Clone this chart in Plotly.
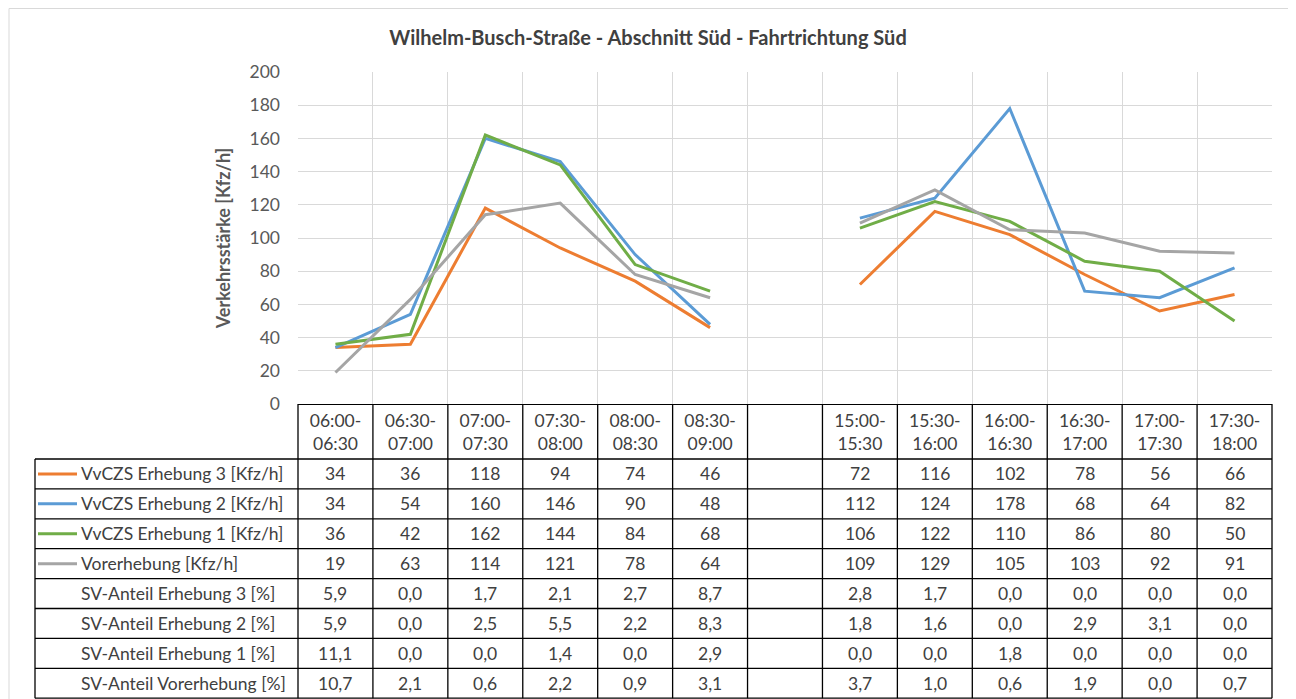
import plotly.graph_objects as go

# ---------------- data ----------------
categories = ["06:00-<br>06:30", "06:30-<br>07:00", "07:00-<br>07:30", "07:30-<br>08:00",
              "08:00-<br>08:30", "08:30-<br>09:00", " ",
              "15:00-<br>15:30", "15:30-<br>16:00", "16:00-<br>16:30", "16:30-<br>17:00",
              "17:00-<br>17:30", "17:30-<br>18:00"]

erhebung3 = [34, 36, 118, 94, 74, 46, None, 72, 116, 102, 78, 56, 66]
erhebung2 = [34, 54, 160, 146, 90, 48, None, 112, 124, 178, 68, 64, 82]
erhebung1 = [36, 42, 162, 144, 84, 68, None, 106, 122, 110, 86, 80, 50]
vorerhebung = [19, 63, 114, 121, 78, 64, None, 109, 129, 105, 103, 92, 91]

sv_erhebung3 = [5.9, 0.0, 1.7, 2.1, 2.7, 8.7, None, 2.8, 1.7, 0.0, 0.0, 0.0, 0.0]
sv_erhebung2 = [5.9, 0.0, 2.5, 5.5, 2.2, 8.3, None, 1.8, 1.6, 0.0, 2.9, 3.1, 0.0]
sv_erhebung1 = [11.1, 0.0, 0.0, 1.4, 0.0, 2.9, None, 0.0, 0.0, 1.8, 0.0, 0.0, 0.0]
sv_vorerhebung = [10.7, 2.1, 0.6, 2.2, 0.9, 3.1, None, 3.7, 1.0, 0.6, 1.9, 0.0, 0.7]

line_names = ["VvCZS Erhebung 3 [Kfz/h]", "VvCZS Erhebung 2 [Kfz/h]",
              "VvCZS Erhebung 1 [Kfz/h]", "Vorerhebung [Kfz/h]"]
sv_names = ["SV-Anteil Erhebung 3 [%]", "SV-Anteil Erhebung 2 [%]",
            "SV-Anteil Erhebung 1 [%]", "SV-Anteil Vorerhebung [%]"]

title = "Wilhelm-Busch-Straße - Abschnitt Süd - Fahrtrichtung Süd"
y_title = "Verkehrsstärke [Kfz/h]"
y_ticks = [0, 20, 40, 60, 80, 100, 120, 140, 160, 180, 200]

# ---------------- styling ----------------
colors = ["#ED7D31", "#5B9BD5", "#70AD47", "#A5A5A5"]
FONT = "Lato, 'Open Sans', sans-serif"
TXT = "#404040"
AX_TXT = "#595959"
FS = 17.5
OFF = 8                      # page offset of the figure (body margin)
W, H = 1296 - OFF, 699 - OFF
# plot area in page pixels
PL, PR, PT, PB = 298, 1272, 72, 404


def px_x(p):
    return (p - PL) / (PR - PL)


def px_y(p):
    return (PB - p) / (PB - PT)


fig = go.Figure()
line_series = [erhebung3, erhebung2, erhebung1, vorerhebung]
for name, vals, c in zip(line_names, line_series, colors):
    fig.add_trace(go.Scatter(x=categories, y=vals, name=name, mode="lines",
                             line=dict(color=c, width=3), connectgaps=False))

shapes = []
annotations = []

# table geometry (page pixels)
row_top = 459
row_h = 29.9
n_rows = 8
table_left = 35
bottom = row_top + n_rows * row_h
lc = "#000000"
lw = 1.3

# vertical lines at column boundaries
for k in range(len(categories) + 1):
    if k == 0 or k == len(categories):
        xp = 0 if k == 0 else 1
        shapes.append(dict(type="line", xref="paper", yref="paper", x0=xp, x1=xp,
                           y0=px_y(PB), y1=px_y(bottom), line=dict(color=lc, width=lw)))
    else:
        shapes.append(dict(type="line", xref="x", yref="paper", x0=k - 0.5, x1=k - 0.5,
                           y0=px_y(PB), y1=px_y(bottom), line=dict(color=lc, width=lw)))
# left border of label column
shapes.append(dict(type="line", xref="paper", yref="paper", x0=px_x(table_left), x1=px_x(table_left),
                   y0=px_y(row_top), y1=px_y(bottom), line=dict(color=lc, width=lw)))
# horizontal row lines
for r in range(n_rows + 1):
    y = row_top + r * row_h
    shapes.append(dict(type="line", xref="paper", yref="paper", x0=px_x(table_left), x1=1,
                       y0=px_y(y), y1=px_y(y), line=dict(color=lc, width=lw)))

# rows content
all_rows = []
for name, vals in zip(line_names, line_series):
    all_rows.append((name, [("" if v is None else str(v)) for v in vals]))
for name, vals in zip(sv_names, [sv_erhebung3, sv_erhebung2, sv_erhebung1, sv_vorerhebung]):
    all_rows.append((name, [("" if v is None else f"{v:.1f}".replace(".", ",")) for v in vals]))

for r, (name, texts) in enumerate(all_rows):
    yc = px_y(row_top + (r + 0.5) * row_h)
    annotations.append(dict(text=name, xref="paper", yref="paper", x=px_x(79), y=yc,
                            xanchor="left", yanchor="middle", showarrow=False,
                            font=dict(family=FONT, size=FS, color=TXT)))
    if r < 4:
        shapes.append(dict(type="line", xref="paper", yref="paper", x0=px_x(38), x1=px_x(77),
                           y0=yc, y1=yc, line=dict(color=colors[r], width=3)))
    for i, t in enumerate(texts):
        if t:
            annotations.append(dict(text=t, xref="x", yref="paper", x=i, y=yc,
                                    xanchor="center", yanchor="middle", showarrow=False,
                                    font=dict(family=FONT, size=FS, color=TXT)))

# outer chart frame
shapes.append(dict(type="rect", xref="paper", yref="paper", x0=px_x(9), x1=px_x(1290),
                   y0=px_y(8.5), y1=px_y(720), line=dict(color="#D9D9D9", width=1), layer="below"))

fig.update_layout(
    width=W, height=H, autosize=False,
    margin=dict(l=PL - OFF, r=W - (PR - OFF), t=PT - OFF, b=H - (PB - OFF)),
    paper_bgcolor="white", plot_bgcolor="white",
    showlegend=False,
    title=dict(text="<b>" + title + "</b>", x=0.5 - OFF / (2 * W), xref="container", xanchor="center",
               y=1 - (38 - OFF) / H, yref="container", yanchor="middle",
               font=dict(family=FONT, size=20, color=TXT)),
    font=dict(family=FONT, size=FS, color=AX_TXT),
    shapes=shapes, annotations=annotations,
)
fig.update_xaxes(type="category", categoryorder="array", categoryarray=categories,
                 tickson="boundaries", showgrid=True, gridcolor="#D9D9D9", gridwidth=1,
                 showline=True, linecolor="#000000", linewidth=lw, ticks="",
                 tickfont=dict(family=FONT, size=FS, color=TXT), ticklabelstandoff=1,
                 range=[-0.5, len(categories) - 0.5], zeroline=False)
fig.update_yaxes(range=[0, 200], tickvals=y_ticks, showgrid=True, gridcolor="#D9D9D9",
                 gridwidth=1, zeroline=False, showline=False, ticks="",
                 ticklabelstandoff=17, tickfont=dict(family=FONT, size=FS, color=AX_TXT),
                 title=dict(text="<b>" + y_title + "</b>", standoff=14,
                            font=dict(family=FONT, size=18, color=AX_TXT)))

fig.write_html("out.html")
